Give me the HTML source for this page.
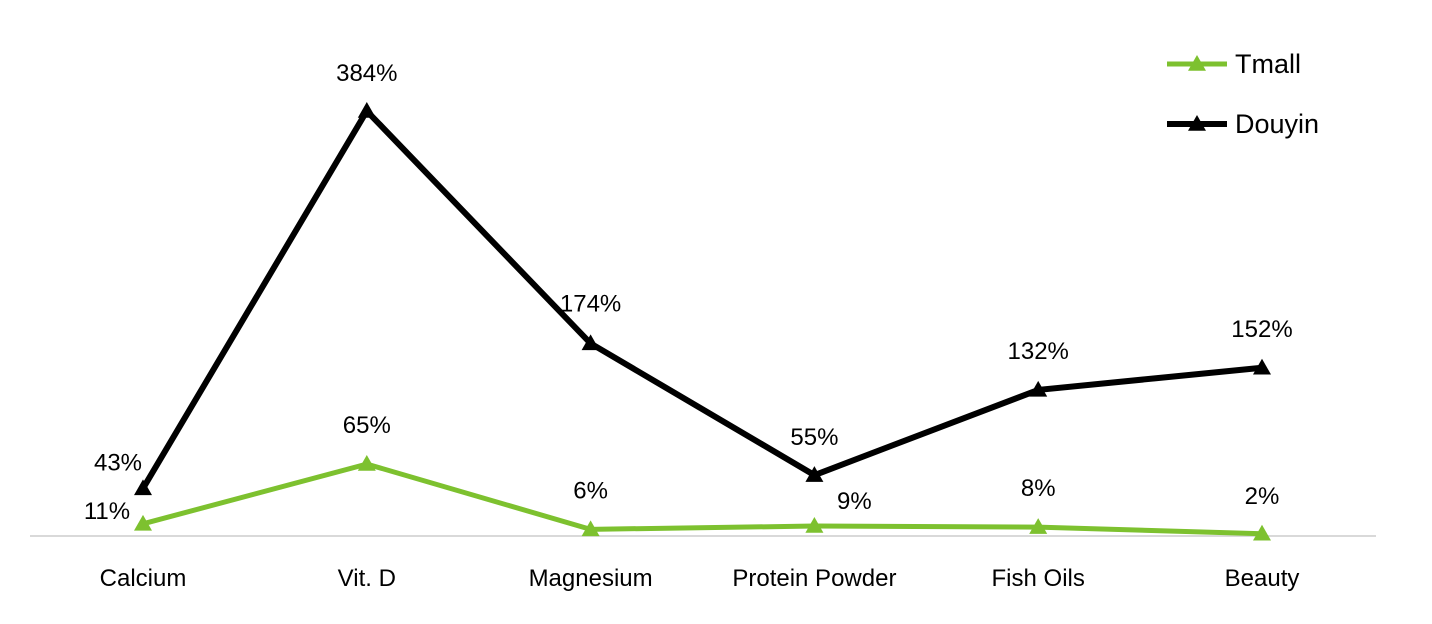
<!DOCTYPE html>
<html><head><meta charset="utf-8"><style>
html,body{margin:0;padding:0;background:#fff;}
svg{display:block;font-family:"Liberation Sans",sans-serif;}
</style></head><body>
<svg id="chart" width="1432" height="624" viewBox="0 0 1432 624"></svg>
<script>
const categories=["Calcium","Vit. D","Magnesium","Protein Powder","Fish Oils","Beauty"];
const tmallValues=[11,65,6,9,8,2];
const douyinValues=[43,384,174,55,132,152];
const tmallLabels=["11%","65%","6%","9%","8%","2%"];
const douyinLabels=["43%","384%","174%","55%","132%","152%"];

const NS="http://www.w3.org/2000/svg";
const svg=document.getElementById('chart');
const x0=143,dx=223.8,yBase=536,pxPer=425/384;
const xs=i=>x0+i*dx;
const ys=v=>yBase-v*pxPer;
function mk(tag,attrs,parent){const e=document.createElementNS(NS,tag);for(const k in attrs)e.setAttribute(k,attrs[k]);(parent||svg).appendChild(e);return e;}

const axis=mk('line',{x1:30,x2:1376,y1:yBase,y2:yBase,stroke:'#d9d9d9','stroke-width':2});



categories.forEach((c,i)=>{
  const t=mk('text',{x:xs(i),y:586,'text-anchor':'middle','font-size':24,fill:'#000'});
  t.textContent=c;
  
  
});

function tri(cx,cy,fill,g){
  const s=9;
  const p=mk('polygon',{points:`${cx},${cy-s} ${cx+s},${cy+s*0.75} ${cx-s},${cy+s*0.75}`,fill:fill},g);
  
  
}
function series(vals,labels,color,width,name,offsets){
  const g=mk('g',{});
  
  
  const pts=vals.map((v,i)=>xs(i)+','+ys(v)).join(' ');
  const pl=mk('polyline',{points:pts,fill:'none',stroke:color,'stroke-width':width,'stroke-linejoin':'miter'},g);
  
  
  vals.forEach((v,i)=>{
    tri(xs(i),ys(v),color,g);
    const o=offsets[i];
    const t=mk('text',{x:xs(i)+o[0],y:ys(v)+o[1],'text-anchor':'middle','font-size':24,fill:'#000'},g);
    t.textContent=labels[i];
    
    
  });
}
series(douyinValues,douyinLabels,'#000',6,'douyin',[[-25,-18],[0,-30],[0,-32],[0,-30],[0,-31],[0,-31]]);
series(tmallValues,tmallLabels,'#7dc12f',5,'tmall',[[-36,-5],[0,-31],[0,-31],[40,-17],[0,-31],[0,-30]]);

function legend(y,color,label,w){
  const g=mk('g',{});
  
  
  mk('line',{x1:1167,x2:1227,y1:y,y2:y,stroke:color,'stroke-width':w},g);
  tri(1197,y,color,g);
  const t=mk('text',{x:1235,y:y+9,'font-size':27,fill:'#000'},g);
  t.textContent=label;
}
legend(64,'#7dc12f','Tmall',5);
legend(124,'#000','Douyin',6);
</script>
</body></html>
